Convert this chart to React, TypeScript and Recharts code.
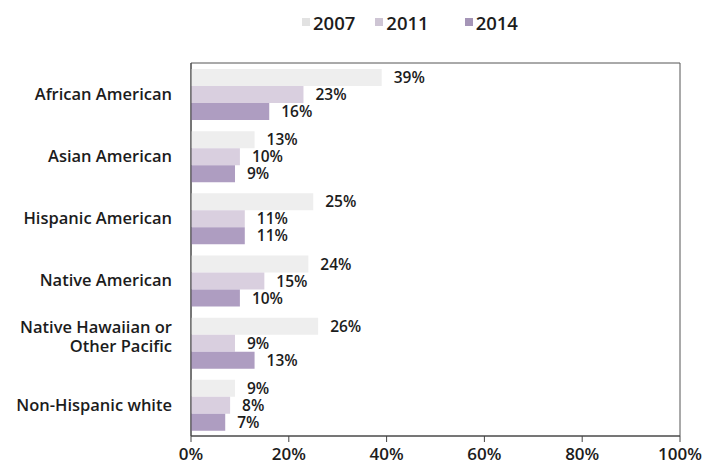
import { BarChart, Bar, XAxis, YAxis, Legend, LabelList, ReferenceArea } from 'recharts'

const GROUPS = [
  'African American',
  'Asian American',
  'Hispanic American',
  'Native American',
  'Native Hawaiian or Other Pacific',
  'Non-Hispanic white',
]
const Y2007 = [39, 13, 25, 24, 26, 9]
const Y2011 = [23, 10, 11, 15, 9, 8]
const Y2014 = [16, 9, 11, 10, 13, 7]
const X_TICKS = [0, 20, 40, 60, 80, 100]

const SERIES = [
  { key: 'y2007', name: '2007', color: '#eeeeee' },
  { key: 'y2011', name: '2011', color: '#d9cfdf' },
  { key: 'y2014', name: '2014', color: '#ae9dc1' },
]

const FONT = '"Open Sans", Lato, sans-serif'
const INK = '#1c1c1c'

const data = GROUPS.map((g, i) => ({
  group: g,
  y2007: Y2007[i],
  y2011: Y2011[i],
  y2014: Y2014[i],
}))

// two-line label for the long Pacific Islander group
const LINE_BREAKS: Record<string, string[]> = {
  'Native Hawaiian or Other Pacific': ['Native Hawaiian or', 'Other Pacific'],
}

function GroupTick({ x, y, payload }: any) {
  const lines = LINE_BREAKS[payload.value] ?? [payload.value]
  const top = lines.length > 1 ? -16 : 0
  return (
    <text
      x={x - 11}
      y={y + top}
      textAnchor="end"
      fontFamily={FONT}
      fontSize={16.5}
      fontWeight={600}
      fill={INK}
    >
      {lines.map((line, i) => (
        <tspan key={line} x={x - 11} dy={i === 0 ? '0.35em' : 19}>
          {line}
        </tspan>
      ))}
    </text>
  )
}

function TopLegend() {
  const gaps = [20, 36, 0]
  return (
    <div style={{ display: 'flex', justifyContent: 'flex-start', height: 24, alignItems: 'center', paddingLeft: 302 }}>
      {SERIES.map((s, i) => (
        <div key={s.key} style={{ display: 'flex', alignItems: 'center', marginRight: gaps[i] }}>
          <span style={{ width: 8, height: 8, background: s.color, display: 'inline-block', marginRight: 3, filter: 'brightness(0.95)' }} />
          <span style={{ fontFamily: FONT, fontSize: 18.5, fontWeight: 600, color: INK }}>{s.name}</span>
        </div>
      ))}
    </div>
  )
}

export default function App() {
  return (
    <div style={{ position: 'absolute', left: 0, top: 0, width: 703, height: 471, background: '#fff' }}>
      <BarChart
        width={703}
        height={471}
        data={data}
        layout="vertical"
        margin={{ top: 39, right: 23, bottom: 0, left: 0 }}
        barGap={0}
      >
        <XAxis
          type="number"
          domain={[0, 100]}
          ticks={X_TICKS}
          tickFormatter={(v) => `${v}%`}
          axisLine={{ stroke: '#444' }}
          tickLine={{ stroke: '#444' }}
          tickSize={6}
          tickMargin={6}
          height={35}
          tick={{ fontFamily: FONT, fontSize: 17, fontWeight: 600, fill: INK }}
          interval={0}
        />
        <YAxis
          type="category"
          dataKey="group"
          width={191}
          axisLine={{ stroke: '#444' }}
          tickLine={false}
          tick={<GroupTick />}
          interval={0}
        />
        <ReferenceArea x1={0} x2={100} fill="none" stroke="#555" strokeWidth={1} />
        <Legend verticalAlign="top" align="left" wrapperStyle={{ top: 10, left: 0, width: 703 }} content={() => <TopLegend />} />
        {SERIES.map((s) => (
          <Bar key={s.key} dataKey={s.key} name={s.name} fill={s.color} barSize={17} isAnimationActive={false}>
            <LabelList
              dataKey={s.key}
              position="right"
              offset={12}
              formatter={(v: any) => `${v}%`}
              style={{ fontFamily: FONT, fontSize: 15.5, fontWeight: 600, fill: INK }}
            />
          </Bar>
        ))}
      </BarChart>
    </div>
  )
}
